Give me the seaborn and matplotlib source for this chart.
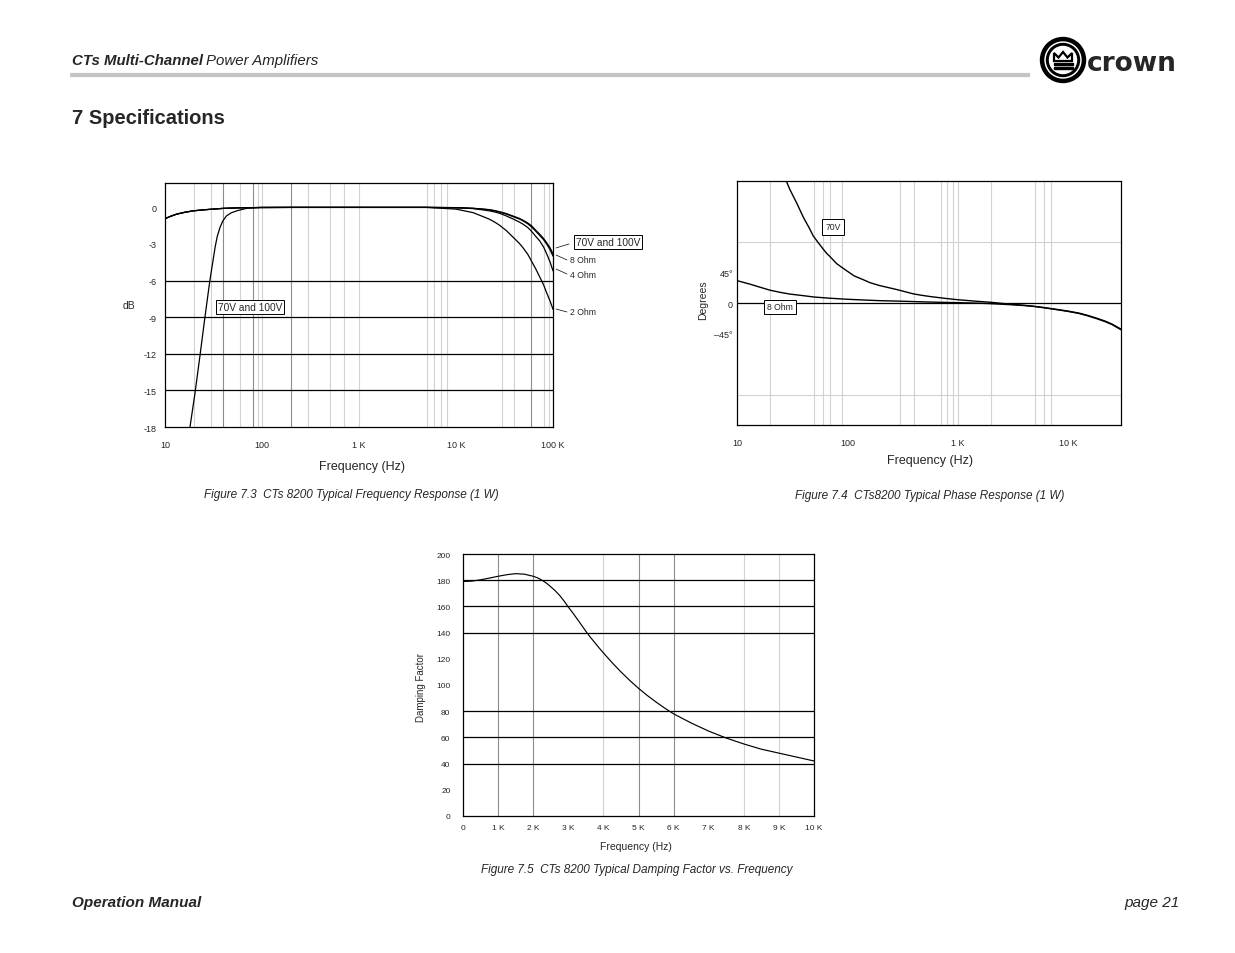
import numpy as np
import pandas as pd
import matplotlib
matplotlib.use("Agg")
import matplotlib.pyplot as plt
import seaborn as sns
from matplotlib.patches import Circle, Polygon, Rectangle
from matplotlib.ticker import NullLocator

# ---------------- data ----------------
# Figure 7.3 frequency response (Hz -> dB)
fr_lo_freq = [10, 11.5, 13.2, 16, 19.6, 25, 30, 40, 60, 100, 200, 1000, 5000]
fr_lo_db = [-0.92, -0.72, -0.55, -0.4, -0.28, -0.2, -0.15, -0.08, -0.03, -0.01, 0, 0, 0]
fr_70v_lo_freq = [17.0, 18.1, 20.4, 22.9, 25.8, 29, 32.8, 34.5, 36.9, 39.5, 43, 48, 55, 69,
                  95, 200, 1000, 5000]
fr_70v_lo_db = [-19.5, -18, -15.2, -12.2, -9.0, -6.0, -3.3, -2.4, -1.64, -1.1, -0.7, -0.45,
                -0.28, -0.08, 0, 0, 0, 0]
fr_hi_freq = [10000, 15000, 18000, 22000, 25000, 28000, 33000, 40000, 45000, 49000, 55000,
              60000, 66000, 73000, 80000, 86000, 93000, 100000]
fr_hi_70v = [-0.02, -0.07, -0.12, -0.18, -0.26, -0.35, -0.5, -0.75, -0.9, -1.05, -1.28,
             -1.5, -1.85, -2.2, -2.55, -2.9, -3.3, -3.8]
fr_hi_8ohm = [-0.02, -0.08, -0.13, -0.2, -0.28, -0.38, -0.55, -0.8, -0.95, -1.1, -1.35,
              -1.6, -1.93, -2.3, -2.65, -3.0, -3.45, -4.0]
fr_hi_4ohm = [-0.03, -0.1, -0.18, -0.28, -0.37, -0.48, -0.7, -1.0, -1.2, -1.37, -1.65,
              -1.95, -2.35, -2.75, -3.25, -3.8, -4.45, -5.2]
fr_hi_2ohm = [-0.14, -0.43, -0.68, -0.96, -1.2, -1.45, -1.9, -2.55, -2.95, -3.3, -3.85,
              -4.4, -5.0, -5.7, -6.35, -7.0, -7.65, -8.35]
fr_xticks = [10, 100, 1000, 10000, 100000]
fr_xticklabels = ["10", "100", "1 K", "10 K", "100 K"]
fr_yticks = [0, -3, -6, -9, -12, -15, -18]
fr_grid_light = [20, 30, 60, 90, 100, 300, 500, 700, 1000, 5000, 6000, 7000, 8000,
                 30000, 40000, 80000, 90000]
fr_grid_dark = [40, 80, 200, 60000]
fr_grid_h = [-6, -9, -12, -15]

# Figure 7.4 phase response (Hz -> degrees)
ph_freq_8ohm = [10, 13, 16, 20, 25, 30, 40, 50, 70, 100, 150, 200, 300, 500, 700, 1000,
                1500, 2000, 3000, 4000, 5000, 6000, 8000, 10000, 12600, 15000, 18000,
                21800, 25000, 30000]
ph_deg_8ohm = [33, 28, 23.5, 18.8, 15.5, 13.2, 10.8, 8.8, 7.0, 5.5, 4.2, 3.4, 2.7, 1.6, 1.0,
               0.5, -0.2, -1.0, -2.5, -3.8, -5.3, -7.0, -10.0, -12.5, -15.6, -19.0, -23.0,
               -27.8, -32.0, -39.5]
ph_freq_70v = [27, 30, 34.6, 40, 45, 49, 55, 60, 65, 69, 80, 90, 98, 115, 138, 160, 195,
               235, 277, 330, 392, 460, 552, 750, 1000, 1500, 2000, 3000, 4000, 5000, 6000,
               8000, 10000, 12600, 15000, 18000, 21800, 25000, 30000]
ph_deg_70v = [186, 168, 148, 126, 111, 99, 88, 80, 73, 69, 58, 52, 47.8, 40, 34.6, 30, 25.8,
              22.7, 20, 16.8, 13.6, 11.6, 9.7, 7.0, 4.8, 2.5, 1.0, -1.8, -3.4, -5.0, -6.7,
              -9.6, -12.0, -15.0, -18.3, -22.3, -27.0, -31.3, -38.5]
ph_xticks = [10, 100, 1000, 10000]
ph_xticklabels = ["10", "100", "1 K", "10 K"]
ph_yticks = [45, 0, -45]
ph_yticklabels = ["45\u00b0", "0", "\u201345\u00b0"]
ph_grid_v = [20, 50, 60, 70, 90, 300, 400, 700, 800, 900, 1000, 2000, 5000, 6000, 7000]
ph_grid_h = [90, -135]

# Figure 7.5 damping factor
df_freq = [0, 250, 500, 750, 1000, 1250, 1500, 1750, 2000, 2125, 2250, 2375, 2500, 2625,
           2750, 2875, 3000, 3125, 3250, 3375, 3500, 3625, 3750, 3875, 4000, 4250, 4500,
           4750, 5000, 5250, 5500, 5750, 6000, 6500, 7000, 7500, 8000, 8500, 9000, 9500,
           10000]
df_value = [179, 179.3, 180.3, 181.6, 183, 184.2, 185, 184.6, 183, 181.8, 180, 177.8, 175,
            172, 168.5, 164.3, 159.5, 155.2, 150.5, 145.8, 141, 136.6, 132.5, 128.4, 124.5,
            117, 110, 103.5, 97.5, 92, 87, 82.3, 78, 71, 64.8, 59.5, 55, 51, 48, 45, 42]
df_xticks = list(range(0, 10001, 1000))
df_xticklabels = ["0", "1 K", "2 K", "3 K", "4 K", "5 K", "6 K", "7 K", "8 K", "9 K", "10 K"]
df_yticks = list(range(0, 201, 20))
df_grid_dark = [1000, 2000, 5000, 6000]
df_grid_light = [4000, 8000, 9000]
df_grid_h = [40, 60, 80, 140, 160, 180]

# ---------------- style ----------------
sns.set_theme(style="white")
plt.rcParams['font.family'] = ['Liberation Sans', 'DejaVu Sans']
plt.rcParams['axes.linewidth'] = 0.8
plt.rcParams['axes.edgecolor'] = 'black'

W, H = 1235, 954
fig = plt.figure(figsize=(W / 100, H / 100), dpi=100)
fig.patch.set_facecolor('white')

LIGHT = '#d2d2d2'
DARK = '#8c8c8c'


def box(l, t, r, b):
    return [l / W, 1 - b / H, (r - l) / W, (b - t) / H]


def style_axes(ax):
    ax.set_facecolor('white')
    for s in ax.spines.values():
        s.set_visible(True)
        s.set_color('black')
        s.set_linewidth(0.9)
    ax.set_xlabel("")
    ax.set_ylabel("")
    ax.grid(False)


# ---------------- Figure 7.3 ----------------
ax1 = fig.add_axes(box(165, 184, 553, 428))
ax1.set_xscale('log')
for f in fr_grid_light:
    ax1.axvline(f, color=LIGHT, lw=0.8, zorder=0)
for f in fr_grid_dark:
    ax1.axvline(f, color=DARK, lw=0.8, zorder=0)
for v in fr_grid_h:
    ax1.axhline(v, color='black', lw=0.9, zorder=1)

curves = {
    "70V and 100V": (fr_70v_lo_freq + fr_hi_freq, fr_70v_lo_db + fr_hi_70v),
    "8 Ohm": (fr_lo_freq + fr_hi_freq, fr_lo_db + fr_hi_8ohm),
    "4 Ohm": (fr_lo_freq + fr_hi_freq, fr_lo_db + fr_hi_4ohm),
    "2 Ohm": (fr_lo_freq + fr_hi_freq, fr_lo_db + fr_hi_2ohm),
}
for name, (fx_, fy_) in curves.items():
    sns.lineplot(x=fx_, y=fy_, ax=ax1, color='black', lw=0.9, zorder=3)
ax1.set_xlim(10, 100000)
ax1.set_ylim(-18, 2)
ax1.xaxis.set_minor_locator(NullLocator())
ax1.set_xticks(fr_xticks)
ax1.set_xticklabels(fr_xticklabels, fontsize=6.5)
ax1.set_yticks(fr_yticks)
ax1.set_yticklabels([str(v) for v in fr_yticks], fontsize=6.5)
ax1.tick_params(axis='x', length=0, pad=9.5)
ax1.tick_params(axis='y', length=0, pad=6)
style_axes(ax1)

# ---------------- Figure 7.4 ----------------
ax2 = fig.add_axes(box(737, 182, 1121, 426))
ax2.set_xscale('log')
for f in ph_grid_v:
    ax2.axvline(f, color=LIGHT, lw=0.8, zorder=0)
for v in ph_grid_h:
    ax2.axhline(v, color=LIGHT, lw=0.8, zorder=0)
ax2.axhline(0, color='black', lw=0.9, zorder=1)
sns.lineplot(x=ph_freq_8ohm, y=ph_deg_8ohm, ax=ax2, color='black', lw=1.0, zorder=3)
sns.lineplot(x=ph_freq_70v, y=ph_deg_70v, ax=ax2, color='black', lw=1.0, zorder=3)
ax2.set_xlim(10, 30000)
ax2.set_ylim(-180, 180)
ax2.xaxis.set_minor_locator(NullLocator())
ax2.set_xticks(ph_xticks)
ax2.set_xticklabels(ph_xticklabels, fontsize=6.5)
ax2.set_yticks(ph_yticks)
ax2.set_yticklabels(ph_yticklabels, fontsize=6.5)
ax2.tick_params(axis='x', length=0, pad=9)
ax2.tick_params(axis='y', length=0, pad=3)
style_axes(ax2)

# ---------------- Figure 7.5 ----------------
ax3 = fig.add_axes(box(463, 555, 814, 817))
for f in df_grid_light:
    ax3.axvline(f, color=LIGHT, lw=0.8, zorder=0)
for f in df_grid_dark:
    ax3.axvline(f, color=DARK, lw=0.8, zorder=0)
for v in df_grid_h:
    ax3.axhline(v, color='black', lw=0.9, zorder=1)
sns.lineplot(x=df_freq, y=df_value, ax=ax3, color='black', lw=0.85, zorder=3)
ax3.set_xlim(0, 10000)
ax3.set_ylim(0, 200)
ax3.set_xticks(df_xticks)
ax3.set_xticklabels(df_xticklabels, fontsize=6)
ax3.set_yticks(df_yticks)
ax3.set_yticklabels([str(v) for v in df_yticks], fontsize=6)
ax3.tick_params(axis='x', length=0, pad=5.5)
ax3.tick_params(axis='y', length=0, pad=9)
style_axes(ax3)

# ---------------- overlay (page text, labels, logo) ----------------
ov = fig.add_axes([0, 0, 1, 1], zorder=10)
ov.set_xlim(0, W)
ov.set_ylim(H, 0)
ov.axis('off')
ov.patch.set_alpha(0)

# header
t1 = ov.text(72, 61, "CTs Multi-Channel", fontsize=10.8, fontweight='bold',
             fontstyle='italic', va='center', ha='left')
fig.canvas.draw()
r = fig.canvas.get_renderer()
bb = t1.get_window_extent(r)
ov.text(bb.x1 + 3, 61, "Power Amplifiers", fontsize=10.8, fontstyle='italic',
        va='center', ha='left')
ov.plot([70, 1030], [76, 76], color='#c4c4c4', lw=3, solid_capstyle='butt')
ov.text(72, 118, "7 Specifications", fontsize=14.5, fontweight='bold',
        va='center', ha='left')

# logo
cx, cy = 1063, 61
ov.add_patch(Circle((cx, cy), 22.5, color='black'))
ov.add_patch(Circle((cx, cy), 18, color='white'))
ov.add_patch(Circle((cx, cy), 16.5, color='black'))
ov.add_patch(Circle((cx, cy), 13.5, color='white'))
crown = [(cx - 9, cy + 1), (cx - 9, cy - 7), (cx - 4.5, cy - 2.5), (cx, cy - 8),
         (cx + 4.5, cy - 2.5), (cx + 9, cy - 7), (cx + 9, cy + 1)]
ov.add_patch(Polygon(crown, closed=True, facecolor='white', edgecolor='black', lw=1.6))
ov.add_patch(Rectangle((cx - 9.5, cy + 3), 19, 2, color='black'))
ov.add_patch(Rectangle((cx - 9.5, cy + 7), 19, 2, color='black'))
ov.text(1087, 64, "crown", fontsize=19, fontweight='bold', family=['DejaVu Sans'],
        va='center', ha='left')

# figure 7.3 labels
ov.text(129, 306, "dB", fontsize=7.5, ha='center', va='center')
ov.text(362, 467, "Frequency (Hz)", fontsize=9, ha='center', va='center')
ov.text(250, 308, "70V and 100V", fontsize=7.3, ha='center', va='center',
        bbox=dict(boxstyle='square,pad=0.15', fc='white', ec='black', lw=0.7))
ov.text(608, 243, "70V and 100V", fontsize=7.3, ha='center', va='center',
        bbox=dict(boxstyle='square,pad=0.15', fc='white', ec='black', lw=0.7))
ov.text(570, 261, "8 Ohm", fontsize=6.2, ha='left', va='center')
ov.text(570, 276, "4 Ohm", fontsize=6.2, ha='left', va='center')
ov.text(570, 313, "2 Ohm", fontsize=6.2, ha='left', va='center')
for (x0, y0, x1, y1) in [(556, 249, 569, 245), (556, 256, 567, 261),
                         (556, 270, 567, 275), (556, 310, 567, 313)]:
    ov.plot([x0, x1], [y0, y1], color='black', lw=0.5)
ov.text(204, 495, "Figure 7.3  CTs 8200 Typical Frequency Response (1 W)", fontsize=8.5,
        fontstyle='italic', ha='left', va='center')

# figure 7.4 labels
ov.text(703, 300, "Degrees", fontsize=7.5, rotation=90, ha='center', va='center')
ov.text(930, 461, "Frequency (Hz)", fontsize=9, ha='center', va='center')
ov.text(833, 228, "70V", fontsize=6.2, ha='center', va='center',
        bbox=dict(boxstyle='square,pad=0.35', fc='white', ec='black', lw=0.7))
ov.text(780, 308, "8 Ohm", fontsize=6.2, ha='center', va='center',
        bbox=dict(boxstyle='square,pad=0.3', fc='white', ec='black', lw=0.7))
ov.text(795, 496, "Figure 7.4  CTs8200 Typical Phase Response (1 W)", fontsize=8.5,
        fontstyle='italic', ha='left', va='center')

# figure 7.5 labels
ov.text(421, 688, "Damping Factor", fontsize=7, rotation=90, ha='center', va='center')
ov.text(636, 847, "Frequency (Hz)", fontsize=7.5, ha='center', va='center')
ov.text(481, 870, "Figure 7.5  CTs 8200 Typical Damping Factor vs. Frequency", fontsize=8.5,
        fontstyle='italic', ha='left', va='center')

# footer
ov.text(72, 903, "Operation Manual", fontsize=11, fontweight='bold', fontstyle='italic',
        ha='left', va='center')
ov.text(1180, 903, "page 21", fontsize=11, fontstyle='italic', ha='right', va='center')

fig.savefig("out.png", dpi=100, facecolor='white')
